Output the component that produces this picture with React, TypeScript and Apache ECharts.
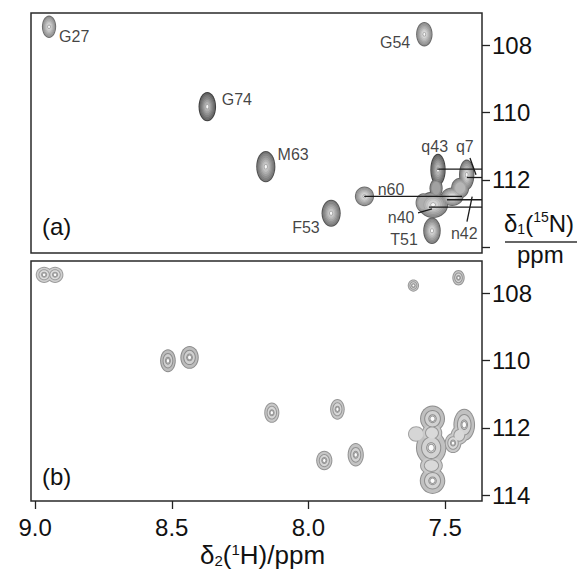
import React, { useEffect, useRef } from 'react';
import * as echarts from 'echarts';

// ---- Axis ranges and ticks ----
const hMin = 7.365;
const hMax = 9.015;
const nMin = 107.05;
const nMax = 114.17;
const hTicks = [9.0, 8.5, 8.0, 7.5];
const nTicks = [108, 110, 112, 114];
const nLabelsA = [108, 110, 112];
const nLabelsB = [108, 110, 112, 114];

// ---- Panel (a) peaks: 1H shift, 15N shift, half-widths (ppm), intensity, contour depth ----
const peakHA = [8.949, 7.576, 8.370, 8.156, 7.917, 7.795, 7.526, 7.421, 7.548, 7.544, 7.474, 7.445, 7.580, 7.533];
const peakNA = [107.46, 107.68, 109.83, 111.61, 112.99, 112.49, 111.70, 111.85, 113.51, 112.74, 112.50, 112.24, 112.68, 112.25];
const peakWHA = [0.022, 0.026, 0.028, 0.031, 0.031, 0.031, 0.024, 0.024, 0.028, 0.051, 0.037, 0.029, 0.024, 0.020];
const peakWNA = [0.30, 0.33, 0.40, 0.43, 0.37, 0.26, 0.44, 0.42, 0.36, 0.36, 0.24, 0.27, 0.25, 0.25];
const peakIA = [0.35, 0.40, 0.90, 0.70, 0.65, 0.35, 0.85, 0.55, 0.55, 0.45, 0.40, 0.45, 0.35, 0.55];
const peakDA = [8, 8, 8, 8, 8, 8, 8, 8, 8, 8, 6, 4, 3, 3];

// ---- Panel (b) peaks ----
const peakHB = [8.967, 8.927, 8.514, 8.435, 8.134, 7.616, 7.451, 7.894, 7.942, 7.827, 7.546, 7.430, 7.471, 7.551, 7.546, 7.606, 7.548, 7.550, 7.448];
const peakNB = [107.46, 107.46, 110.01, 109.91, 111.55, 107.78, 107.55, 111.45, 112.97, 112.80, 111.73, 111.91, 112.45, 112.59, 113.57, 112.18, 112.15, 113.12, 112.22];
const peakWHB = [0.027, 0.027, 0.025, 0.030, 0.024, 0.017, 0.019, 0.023, 0.026, 0.026, 0.042, 0.036, 0.027, 0.052, 0.043, 0.026, 0.034, 0.038, 0.028];
const peakWNB = [0.21, 0.21, 0.31, 0.31, 0.27, 0.15, 0.20, 0.28, 0.26, 0.32, 0.36, 0.45, 0.27, 0.48, 0.36, 0.20, 0.25, 0.25, 0.25];
const peakIB = [0.22, 0.22, 0.65, 0.65, 0.40, 0.30, 0.40, 0.40, 0.45, 0.50, 0.60, 0.55, 0.35, 0.55, 0.55, 0.10, 0.35, 0.35, 0.35];
const peakDB = [4, 4, 4, 4, 4, 4, 4, 4, 4, 4, 4, 4, 4, 4, 4, 1, 2, 2, 2];

// ---- Assignment labels (panel a): name, 1H, 15N of label centre ----
const labelNames = ['G27', 'G74', 'M63', 'G54', 'q43', 'q7', 'n60', 'n40', 'F53', 'T51', 'n42'];
const labelH = [8.857, 8.262, 8.056, 7.683, 7.538, 7.428, 7.698, 7.661, 8.009, 7.650, 7.430];
const labelN = [107.75, 109.61, 111.26, 107.92, 111.01, 111.01, 112.28, 113.11, 113.41, 113.76, 113.58];

// ---- Leader lines (panel a): [H1, N1, H2, N2] ----
const leaderLines = [
  [7.529, 111.68, 7.365, 111.68],
  [7.420, 111.93, 7.365, 111.93],
  [7.409, 111.35, 7.387, 111.85],
  [7.796, 112.49, 7.438, 112.49],
  [7.493, 112.59, 7.365, 112.59],
  [7.559, 112.81, 7.365, 112.81],
  [7.599, 112.98, 7.548, 112.86],
  [7.420, 113.24, 7.401, 112.50],
];

const FONT = "'Liberation Sans', Arial, Helvetica, sans-serif";

const rgb = (g: number) => {
  const v = Math.max(0, Math.min(255, Math.round(g)));
  return `rgb(${v},${v},${v})`;
};

// pass 'edge' draws the contour line colour slightly enlarged, pass 'fill' draws the level fill
function makeRender(k: number, L: number, mode: 'a' | 'b', pass: 'edge' | 'fill') {
  return (params: any, api: any) => {
    const depth = api.value(5);
    const last = k === L - 1;
    if (!last && k >= depth) return null;
    if (last && depth < L) return null;
    const h = api.value(0);
    const n = api.value(1);
    const wh = api.value(2);
    const wn = api.value(3);
    const t = api.value(4);
    const c = api.coord([h, n]);
    const c2 = api.coord([h + wh, n + wn]);
    const RX = Math.abs(c2[0] - c[0]);
    const RY = Math.abs(c2[1] - c[1]);
    let f: number;
    let fill: string;
    let stroke: string;
    let lw: number;
    if (mode === 'a') {
      const q = k / (L - 2);
      f = last ? 0.14 : 1 - 0.78 * Math.pow(q, 1.1);
      const g0 = 185 - t * 85;
      const gIn = Math.min(228, g0 + 85);
      const g = last ? 248 : g0 + (gIn - g0) * Math.pow(q, 1.2);
      fill = rgb(g);
      stroke = rgb(last ? 160 : (k === 0 ? g0 - 45 : g - 18));
      lw = k === 0 ? 1.1 : 0.8;
    } else {
      f = last ? 0.18 : 1 - (0.72 * k) / (L - 2);
      const g0 = 218 - t * 45;
      const g = last ? 252 : g0 + (245 - g0) * (k / (L - 1));
      fill = rgb(g);
      stroke = rgb(last ? 150 : 165 - t * 40);
      lw = 1.0;
    }
    const rx = Math.max(1, RX * f);
    const ry = Math.max(1, RY * f);
    if (pass === 'edge') {
      return {
        type: 'ellipse',
        shape: { cx: c[0], cy: c[1], rx: rx + lw, ry: ry + lw },
        style: { fill: stroke },
      };
    }
    return {
      type: 'ellipse',
      shape: { cx: c[0], cy: c[1], rx, ry },
      style: { fill },
    };
  };
}

export default function App() {
  const ref = useRef<HTMLDivElement>(null);
  useEffect(() => {
    if (!ref.current) return;
    const chart = echarts.init(ref.current, null, { renderer: 'svg' });

    const dataA = peakHA.map((h, i) => [h, peakNA[i], peakWHA[i], peakWNA[i], peakIA[i], peakDA[i]]);
    const dataB = peakHB.map((h, i) => [h, peakNB[i], peakWHB[i], peakWNB[i], peakIB[i], peakDB[i]]);
    const labelData = labelNames.map((nm, i) => [labelH[i], labelN[i], nm]);

    const LA = 8;
    const LB = 4;
    const series: any[] = [];
    for (let k = 0; k < LA; k++) {
      for (const pass of ['edge', 'fill'] as const) {
        series.push({
          type: 'custom', xAxisIndex: 0, yAxisIndex: 0, clip: true, silent: true,
          data: dataA, renderItem: makeRender(k, LA, 'a', pass),
        });
      }
    }
    for (let k = 0; k < LB; k++) {
      for (const pass of ['edge', 'fill'] as const) {
        series.push({
          type: 'custom', xAxisIndex: 1, yAxisIndex: 1, clip: true, silent: true,
          data: dataB, renderItem: makeRender(k, LB, 'b', pass),
        });
      }
    }
    series.push({
      type: 'custom', xAxisIndex: 0, yAxisIndex: 0, silent: true,
      data: leaderLines,
      renderItem: (params: any, api: any) => {
        const p1 = api.coord([api.value(0), api.value(1)]);
        const p2 = api.coord([api.value(2), api.value(3)]);
        return {
          type: 'line',
          shape: { x1: p1[0], y1: p1[1], x2: p2[0], y2: p2[1] },
          style: { stroke: '#1a1a1a', lineWidth: 1.3 },
        };
      },
    });
    series.push({
      type: 'scatter', xAxisIndex: 0, yAxisIndex: 0, silent: true,
      symbolSize: 1, itemStyle: { color: 'rgba(0,0,0,0)' },
      data: labelData,
      label: {
        show: true, position: 'inside', formatter: (p: any) => p.data[2],
        fontSize: 16, color: '#111', fontFamily: FONT,
      },
    });

    const xCommon = {
      type: 'value', min: hMin, max: hMax, inverse: true,
      splitLine: { show: false },
    };
    const yCommon = {
      type: 'value', min: nMin, max: nMax, inverse: true, position: 'right',
      splitLine: { show: false },
      axisLine: { show: false },
      axisTick: { show: true, length: 8, customValues: nTicks, lineStyle: { color: '#222', width: 1.3 } },
    };

    const mainStyle = { fontSize: 24, fontFamily: FONT, color: '#111', lineHeight: 26 };
    const subStyle = { fontSize: 14, fontFamily: FONT, color: '#111', lineHeight: 26, verticalAlign: 'bottom' as const };
    const supStyle = { fontSize: 14, fontFamily: FONT, color: '#111', lineHeight: 26, verticalAlign: 'top' as const };
    const mainT = { ...mainStyle, fontSize: 26 };
    const subT = { ...subStyle, fontSize: 15 };
    const supT = { ...supStyle, fontSize: 15 };

    chart.setOption({
      animation: false,
      backgroundColor: '#ffffff',
      grid: [
        { left: 31, top: 13, width: 451, height: 240, show: true, borderColor: '#2a2a2a', borderWidth: 1.5, backgroundColor: 'transparent' },
        { left: 31, top: 261, width: 451, height: 240, show: true, borderColor: '#2a2a2a', borderWidth: 1.5, backgroundColor: 'transparent' },
      ],
      xAxis: [
        { ...xCommon, gridIndex: 0, axisLine: { show: false }, axisTick: { show: false }, axisLabel: { show: false } },
        {
          ...xCommon, gridIndex: 1, position: 'bottom',
          axisLine: { show: false },
          axisTick: { show: true, length: 8, customValues: hTicks, lineStyle: { color: '#222', width: 1.3 } },
          axisLabel: {
            show: true, customValues: hTicks, fontSize: 24, fontFamily: FONT, color: '#111', margin: 14,
            formatter: (v: number) => v.toFixed(1),
          },
        },
      ],
      yAxis: [
        {
          ...yCommon, gridIndex: 0,
          axisLabel: { show: true, customValues: nLabelsA, fontSize: 24, fontFamily: FONT, color: '#111', margin: 10, formatter: (v: number) => String(v) },
        },
        {
          ...yCommon, gridIndex: 1,
          axisLabel: { show: true, customValues: nLabelsB, fontSize: 24, fontFamily: FONT, color: '#111', margin: 10, formatter: (v: number) => String(v) },
        },
      ],
      graphic: [
        { type: 'text', left: 42, top: 214, style: { text: '(a)', fontSize: 24, fontFamily: FONT, fill: '#111' } },
        { type: 'text', left: 42, top: 464, style: { text: '(b)', fontSize: 24, fontFamily: FONT, fill: '#111' } },
        {
          type: 'text', left: 504, top: 210,
          style: {
            text: '{m|δ}{s|1}{m|(}{p|15}{m|N)}',
            rich: { m: mainStyle, s: subStyle, p: supStyle },
            fill: '#111',
          },
        },
        { type: 'line', shape: { x1: 505, y1: 242, x2: 577, y2: 242 }, style: { stroke: '#333', lineWidth: 1.3 } },
        { type: 'text', left: 517, top: 242, style: { text: 'ppm', fontSize: 24, fontFamily: FONT, fill: '#111' } },
        {
          type: 'text', left: 200, top: 542,
          style: {
            text: '{m|δ}{s|2}{m|(}{p|1}{m|H)/ppm}',
            rich: { m: mainT, s: subT, p: supT },
            fill: '#111',
          },
        },
      ],
      series,
    });
    return () => chart.dispose();
  }, []);
  return <div ref={ref} style={{ position: 'fixed', left: 0, top: 0, width: 581, height: 569 }} />;
}
